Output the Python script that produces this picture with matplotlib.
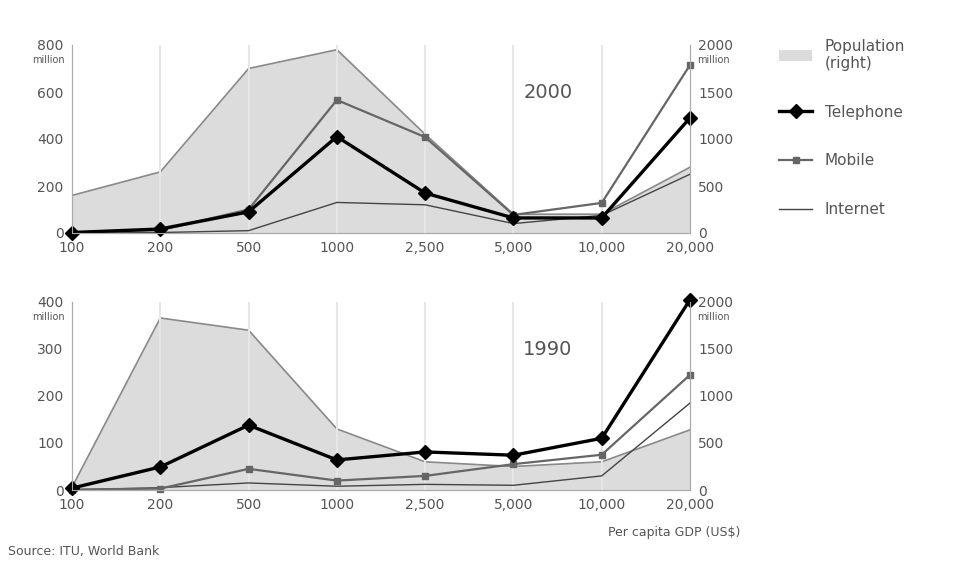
import numpy as np
import matplotlib.pyplot as plt
from matplotlib.patches import Patch
from matplotlib.lines import Line2D

# GDP per capita groups (US$)
groups = ['100', '200', '500', '1000', '2,500', '5,000', '10,000', '20,000']

# 2000 (million)
pop_2000 = [400, 650, 1750, 1950, 1050, 200, 200, 700]
tel_2000 = [2, 17, 90, 410, 170, 64, 64, 490]
mob_2000 = [3, 12, 100, 566, 408, 77, 128, 715]
net_2000 = [0, 2, 10, 130, 120, 40, 75, 250]

# 1990 (million)
pop_1990 = [30, 1830, 1700, 650, 300, 250, 300, 640]
tel_1990 = [4, 49, 138, 64, 81, 74, 110, 405]
mob_1990 = [1, 3, 45, 20, 30, 55, 75, 245]
net_1990 = [0, 5, 15, 8, 12, 10, 30, 185]

x = np.arange(len(groups))
txt = '#555555'


def panel(ax, pop, tel, mob, net, ymax, year):
    ax2 = ax.twinx()
    ax2.fill_between(x, pop, color='#dcdcdc', zorder=1)
    ax2.plot(x, pop, color='#8a8a8a', lw=1.2, zorder=2)
    ax2.set_ylim(0, 2000)
    ax2.set_yticks([0, 500, 1000, 1500, 2000])
    ax.set_zorder(ax2.get_zorder() + 1)
    ax.patch.set_visible(False)

    ax.plot(x, net, color='#444444', lw=1.0, clip_on=False)
    ax.plot(x, mob, color='#666666', lw=1.6, marker='s', ms=5, clip_on=False)
    ax.plot(x, tel, color='black', lw=2.4, marker='D', ms=7, clip_on=False)
    ax.set_xlim(0, 7)
    ax.set_ylim(0, ymax)
    ax.set_yticks(np.linspace(0, ymax, 5))
    ax.set_xticks(x)
    ax.set_xticklabels(groups)
    for xi in x[1:-1]:
        ax.axvline(xi, color='#e6e6e6', lw=1.5, zorder=0)

    for a in (ax, ax2):
        for s in a.spines.values():
            s.set_color('#aaaaaa')
        a.spines['top'].set_visible(False)
        a.tick_params(colors=txt, labelsize=10, length=0, pad=6)
    ax.annotate('million', xy=(0, 1), xycoords='axes fraction',
                xytext=(-5, -7), textcoords='offset points', ha='right',
                va='top', fontsize=7, color=txt)
    ax2.annotate('million', xy=(1, 1), xycoords='axes fraction',
                 xytext=(5, -7), textcoords='offset points', ha='left',
                 va='top', fontsize=7, color=txt)
    ax.text(0.77, 0.72, year, transform=ax.transAxes, fontsize=14, color=txt,
            ha='center')


fig = plt.figure(figsize=(9.56, 5.79), dpi=100)
ax_top = fig.add_axes([72/956, 1-233/579, 618/956, 188/579])
ax_bot = fig.add_axes([72/956, 1-490/579, 618/956, 188/579])

panel(ax_top, pop_2000, tel_2000, mob_2000, net_2000, 800, '2000')
panel(ax_bot, pop_1990, tel_1990, mob_1990, net_1990, 400, '1990')

fig.text(740/956, 1-536/579, 'Per capita GDP (US$)', ha='right', fontsize=9,
         color=txt)
fig.text(8/956, 1-555/579, 'Source: ITU, World Bank', ha='left', fontsize=9,
         color=txt)

handles = [Patch(facecolor='#dcdcdc', edgecolor='none'),
           Line2D([], [], color='black', lw=2.4, marker='D', ms=7),
           Line2D([], [], color='#666666', lw=1.6, marker='s', ms=5),
           Line2D([], [], color='#444444', lw=1.0)]
fig.legend(handles, ['Population\n(right)', 'Telephone', 'Mobile', 'Internet'],
           loc='upper left', bbox_to_anchor=(765/956, 1-25/579), frameon=False,
           fontsize=11, labelcolor=txt, labelspacing=2.2, handlelength=2.2)

fig.savefig('out.png', dpi=100)
